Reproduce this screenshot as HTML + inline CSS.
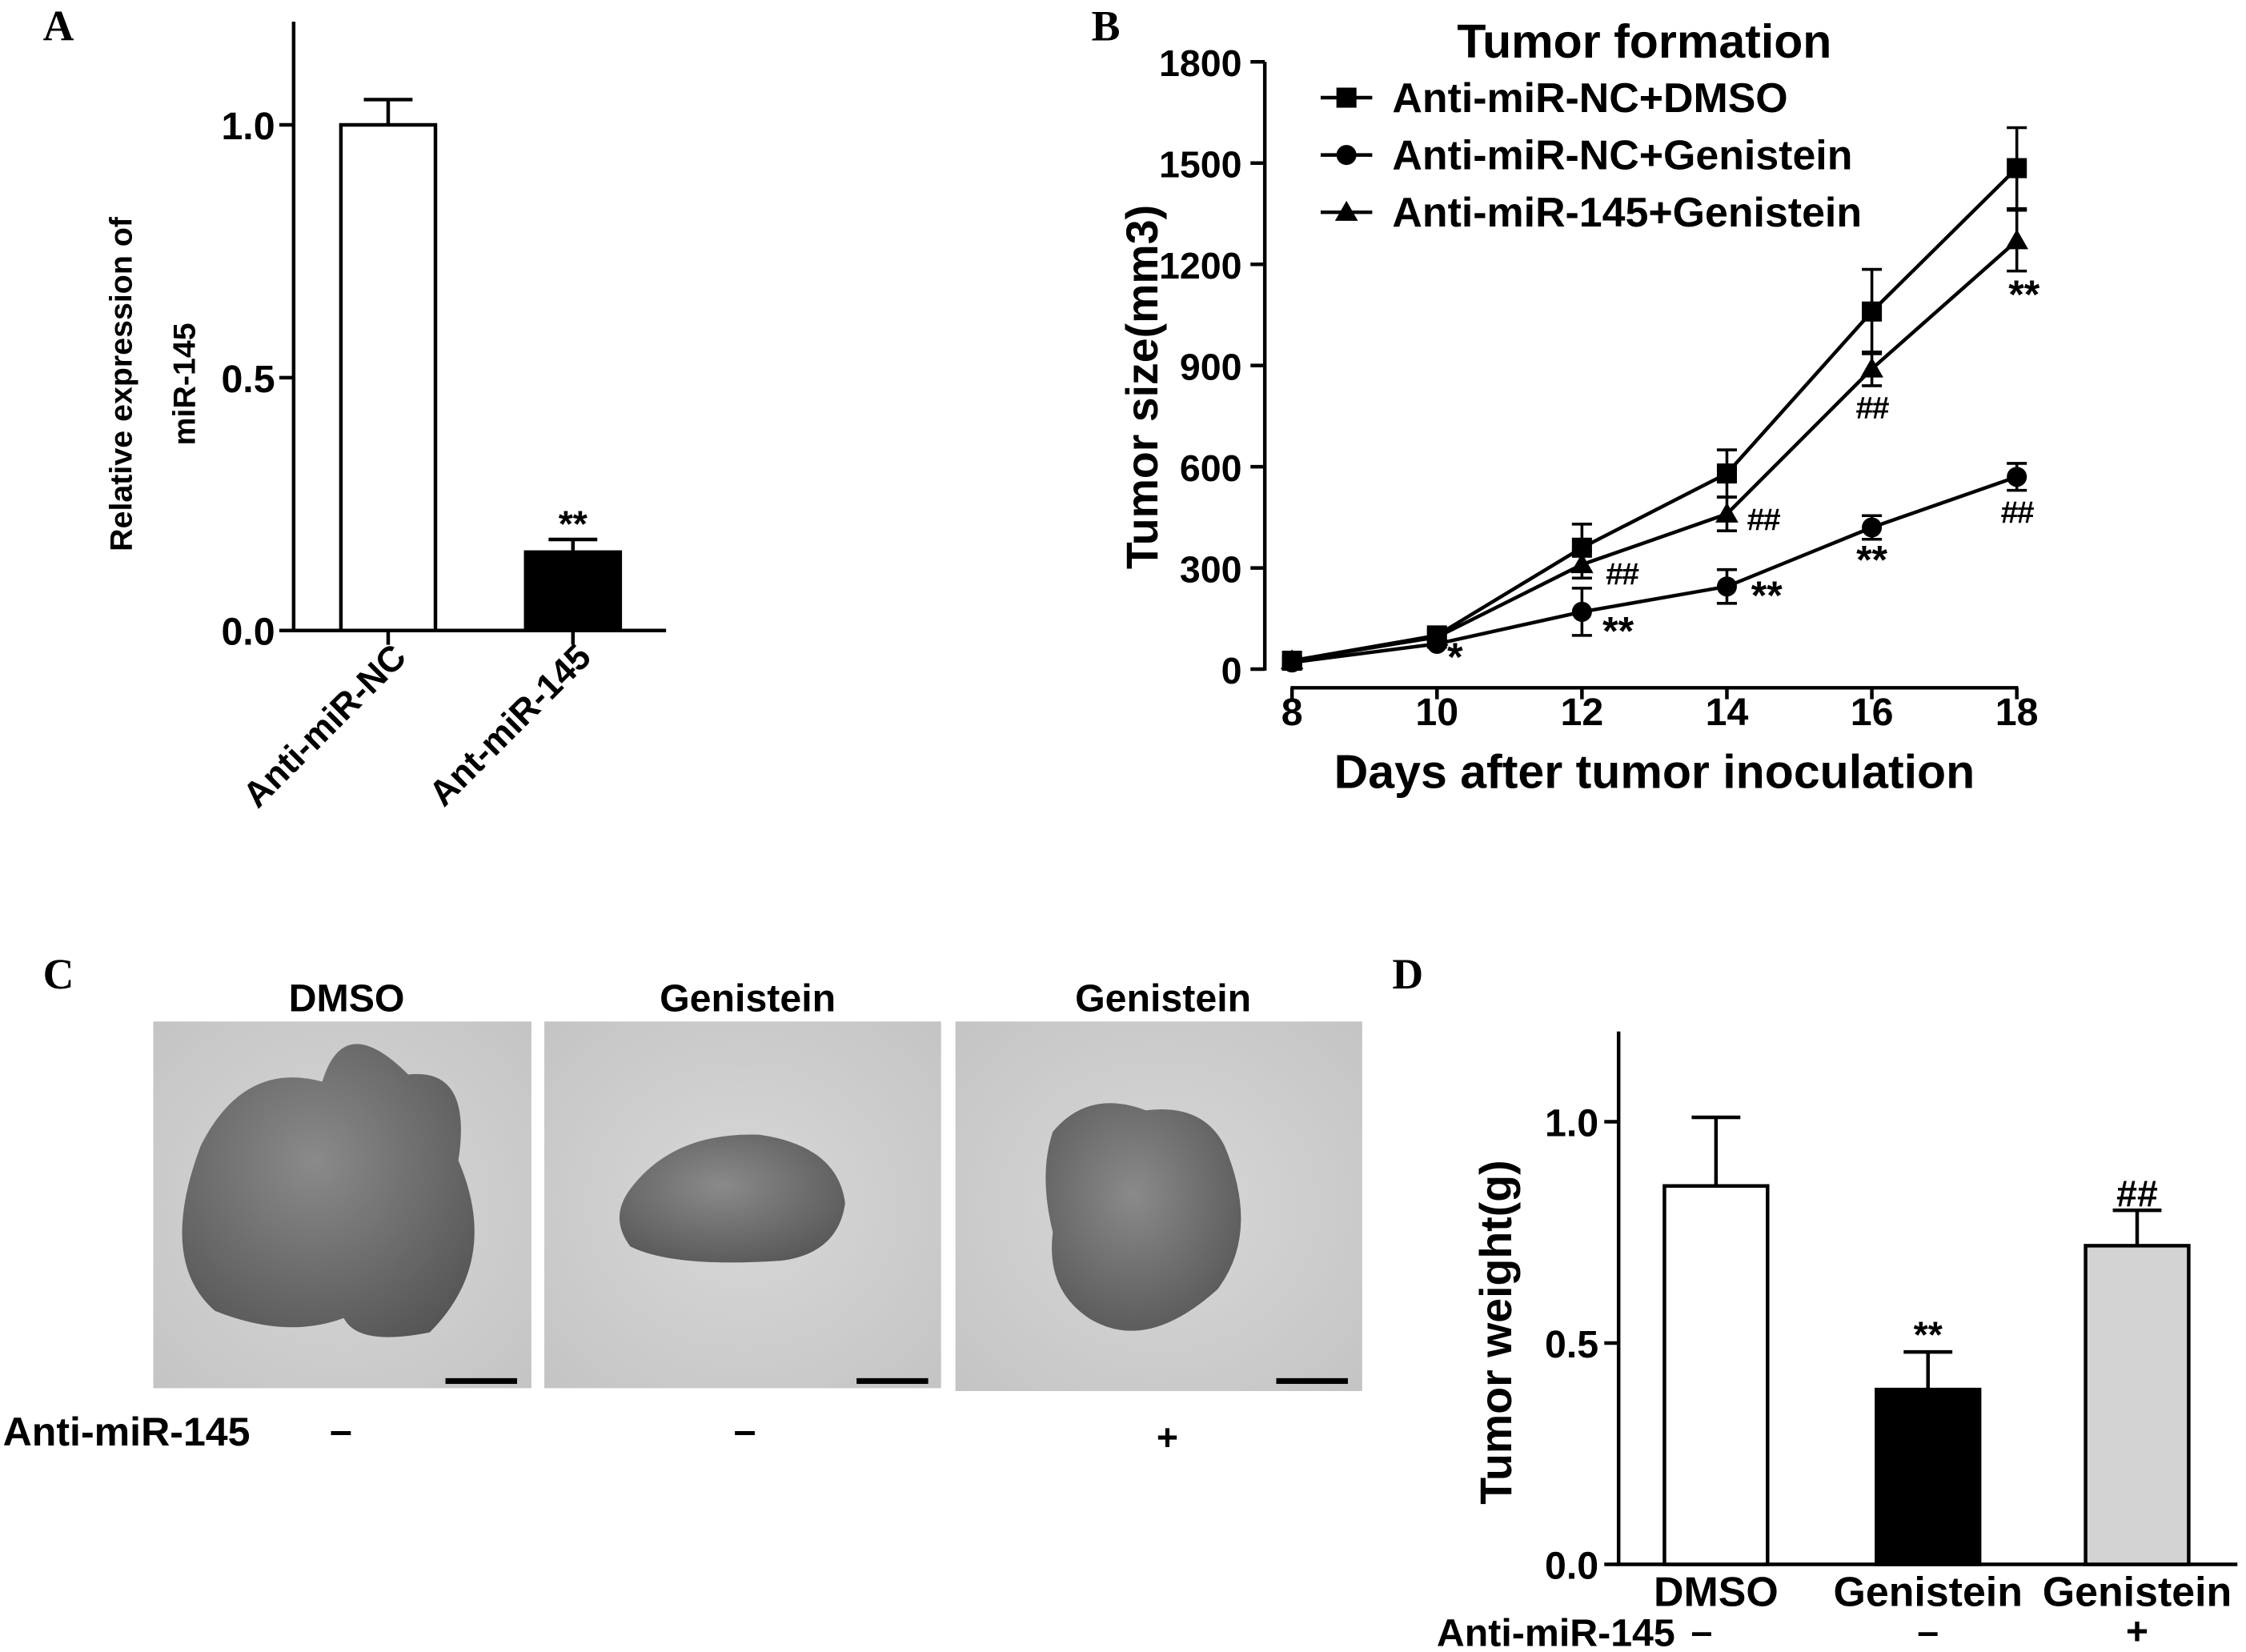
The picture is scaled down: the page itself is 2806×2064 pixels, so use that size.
<!DOCTYPE html>
<html><head><meta charset="utf-8"><style>
html,body{margin:0;padding:0;background:#fff}
svg{display:block}
text{font-family:"Liberation Sans",Arial,sans-serif;font-weight:bold;fill:#000}
.pl{font-family:"Liberation Serif",serif;font-size:30px}
</style></head><body>
<svg id="fig" width="2806" height="2064" viewBox="0 0 1568 1153" xmlns="http://www.w3.org/2000/svg">
<defs>
<radialGradient id="bg1" cx="0.5" cy="0.5" r="0.7"><stop offset="0" stop-color="#d8d8d8"/><stop offset="1" stop-color="#c4c4c4"/></radialGradient>
<radialGradient id="tm" cx="0.45" cy="0.4" r="0.7"><stop offset="0" stop-color="#8a8a8a"/><stop offset="1" stop-color="#555"/></radialGradient>
</defs>
<g id="A"></g>
<g id="B"></g>
<g id="C">
<text class="pl" x="30" y="690">C</text>
<text x="242" y="706" font-size="27" text-anchor="middle">DMSO</text>
<text x="522" y="706" font-size="27" text-anchor="middle">Genistein</text>
<text x="812" y="706" font-size="27" text-anchor="middle">Genistein</text>
<rect x="107" y="713" width="264" height="256" fill="url(#bg1)"/>
<path d="M140 800 Q170 740 225 755 Q240 705 285 750 Q330 745 320 810 Q350 880 300 930 Q250 940 240 920 Q200 935 150 915 Q110 880 140 800Z" fill="url(#tm)"/>
<rect x="311" y="962" width="50" height="4" fill="#000"/>
<rect x="380" y="713" width="277" height="256" fill="url(#bg1)"/>
<path d="M440 830 Q470 790 530 792 Q585 800 590 840 Q585 875 545 880 Q470 885 440 870 Q425 850 440 830Z" fill="url(#tm)"/>
<rect x="598" y="962" width="50" height="4" fill="#000"/>
<rect x="667" y="713" width="284" height="258" fill="url(#bg1)"/>
<path d="M735 790 Q760 760 800 775 Q840 770 855 800 Q880 860 850 900 Q800 945 760 920 Q730 900 735 860 Q725 820 735 790Z" fill="url(#tm)"/>
<rect x="891" y="962" width="50" height="4" fill="#000"/>
<text x="2" y="1009" font-size="28">Anti-miR-145</text>
<text x="238" y="1008" font-size="28" text-anchor="middle">–</text>
<text x="520" y="1008" font-size="28" text-anchor="middle">–</text>
<text x="815" y="1012" font-size="26" text-anchor="middle">+</text>
</g>
<g id="D"></g>
</svg>
<script>
const NS="http://www.w3.org/2000/svg";
function mk(p,t,a,txt){const e=document.createElementNS(NS,t);for(const k in a)e.setAttribute(k,a[k]);if(txt!==undefined)e.textContent=txt;p.appendChild(e);return e;}

// Panel A data
const aCats=["Anti-miR-NC","Ant-miR-145"];
const aVals=[1.0,0.155];
const aErr=[0.05,0.025];
const aFill=["#fff","#000"];
const aTicks=[0.0,0.5,1.0];
const aStars=["","**"];
// Panel B data
const bDays=[8,10,12,14,16,18];
const bSeriesNames=["Anti-miR-NC+DMSO","Anti-miR-NC+Genistein","Anti-miR-145+Genistein"];
const bDmso=[25,100,360,580,1060,1485];
const bDmsoErr=[10,15,70,70,125,120];
const bGen=[20,75,170,245,420,570];
const bGenErr=[10,10,70,50,35,40];
const bAnti=[25,95,310,460,890,1270];
const bAntiErr=[10,10,40,50,50,90];
const bYTicks=[0,300,600,900,1200,1500,1800];
const bAnnText=["*","**","**","**","**","##","##","##","##"];
const bAnnDay=[10.25,12.5,14.55,16,18.1,12.55,14.5,16,18];
const bAnnVal=[-5,72,178,284,1070,250,412,743,433];
// Panel D data
const dCats=["DMSO","Genistein","Genistein"];
const dSigns=["–","–","+"];
const dVals=[0.855,0.395,0.72];
const dErr=[0.155,0.085,0.08];
const dFill=["#fff","#000","#d3d3d3"];
const dTicks=[0.0,0.5,1.0];
const dStars=["","**","##"];

// ---- Panel A
(function(){
const g=document.getElementById('A');
const y=v=>440-v*353;
mk(g,'text',{class:'pl',x:30,y:28,},'A');
mk(g,'line',{x1:205,y1:15,x2:205,y2:441,stroke:'#000','stroke-width':2.5,});
mk(g,'line',{x1:204,y1:440,x2:465,y2:440,stroke:'#000','stroke-width':2.5,});
aTicks.forEach(t=>{mk(g,'line',{x1:195,y1:y(t),x2:205,y2:y(t),stroke:'#000','stroke-width':2.5});
 const e=mk(g,'text',{x:192,y:y(t)+10,'font-size':27,'text-anchor':'end'},t.toFixed(1));
 });
const tt=mk(g,'text',{transform:'translate(92,268) rotate(-90)','font-size':22,'text-anchor':'middle'});

mk(tt,'tspan',{x:0,dy:0},'Relative expression of');mk(tt,'tspan',{x:0,dy:44},'miR-145');
const cx=[271,400];
aCats.forEach((c,i)=>{
 const b=mk(g,'rect',{x:cx[i]-33,y:y(aVals[i]),width:66,height:440-y(aVals[i]),fill:aFill[i],stroke:'#000','stroke-width':2.5});
 
 mk(g,'line',{x1:cx[i],y1:y(aVals[i]),x2:cx[i],y2:y(aVals[i]+aErr[i]),stroke:'#000','stroke-width':2.5});
 mk(g,'line',{x1:cx[i]-17,y1:y(aVals[i]+aErr[i]),x2:cx[i]+17,y2:y(aVals[i]+aErr[i]),stroke:'#000','stroke-width':2.5});
 mk(g,'line',{x1:cx[i],y1:440,x2:cx[i],y2:450,stroke:'#000','stroke-width':2.5});
 if(aStars[i]){const s=mk(g,'text',{x:cx[i],y:y(aVals[i]+aErr[i])-2,'font-size':26,'font-weight':'normal','text-anchor':'middle','font-family':'Liberation Serif'},aStars[i]);}
 const l=mk(g,'text',{transform:`translate(${cx[i]+14},460) rotate(-45)`,'font-size':25,'text-anchor':'end'},c);
 
});
})();

// ---- Panel B
(function(){
const g=document.getElementById('B');
const y=v=>467-v*(424/1800);
const x=d=>902+(d-8)*50.6;
mk(g,'text',{class:'pl',x:762,y:28,},'B');
mk(g,'line',{x1:883,y1:43,x2:883,y2:468,stroke:'#000','stroke-width':2.5,});
mk(g,'line',{x1:901,y1:480,x2:1409,y2:480,stroke:'#000','stroke-width':2.5,});
bYTicks.forEach(t=>{mk(g,'line',{x1:873,y1:y(t),x2:883,y2:y(t),stroke:'#000','stroke-width':2.5});
 const e=mk(g,'text',{x:867,y:y(t)+10,'font-size':26,'text-anchor':'end'},t);
 });
bDays.forEach(d=>{mk(g,'line',{x1:x(d),y1:480,x2:x(d),y2:488,stroke:'#000','stroke-width':2.5});
 const e=mk(g,'text',{x:x(d),y:506,'font-size':27,'text-anchor':'middle'},d);
 });
const yt=mk(g,'text',{transform:'translate(808,270) rotate(-90)','font-size':31,'text-anchor':'middle'},'Tumor size(mm3)');

const xt=mk(g,'text',{x:1155,y:550,'font-size':33,'text-anchor':'middle'},'Days after tumor inoculation');

const ti=mk(g,'text',{x:1148,y:40,'font-size':33,'text-anchor':'middle'},'Tumor formation');

const series=[[bDmso,bDmsoErr,'sq'],[bGen,bGenErr,'ci'],[bAnti,bAntiErr,'tr']];
function marker(p,cx,cy,k){
 if(k==='sq')return mk(p,'rect',{x:cx-7,y:cy-7,width:14,height:14,fill:'#000'});
 if(k==='ci')return mk(p,'circle',{cx:cx,cy:cy,r:7,fill:'#000'});
 return mk(p,'polygon',{points:`${cx},${cy-8} ${cx-8},${cy+6} ${cx+8},${cy+6}`,fill:'#000'});
}
series.forEach((s,si)=>{
 const sg=mk(g,'g',{});
 mk(sg,'polyline',{points:bDays.map((d,i)=>x(d)+','+y(s[0][i])).join(' '),fill:'none',stroke:'#000','stroke-width':2.5});
 bDays.forEach((d,i)=>{
  mk(sg,'line',{x1:x(d),y1:y(s[0][i]-s[1][i]),x2:x(d),y2:y(s[0][i]+s[1][i]),stroke:'#000','stroke-width':2});
  [s[0][i]-s[1][i],s[0][i]+s[1][i]].forEach(v=>mk(sg,'line',{x1:x(d)-7,y1:y(v),x2:x(d)+7,y2:y(v),stroke:'#000','stroke-width':2}));
  const m=marker(sg,x(d),y(s[0][i]),s[2]);
 });
 const ly=68+si*40;
 mk(g,'line',{x1:922,y1:ly,x2:958,y2:ly,stroke:'#000','stroke-width':2.5});
 marker(g,940,ly,s[2]);
 const lt=mk(g,'text',{x:972,y:ly+10,'font-size':29},bSeriesNames[si]);
 
});
bAnnText.forEach((t,i)=>{
 const st=t[0]==='*';
 const e=mk(g,'text',{x:x(bAnnDay[i]),y:y(bAnnVal[i]),'font-size':st?28:22,'text-anchor':'middle','letter-spacing':st?0:-1},t);
 
});
})();

// ---- Panel D
(function(){
const g=document.getElementById('D');
const y=v=>1092-v*309;
mk(g,'text',{class:'pl',x:972,y:690,},'D');
mk(g,'line',{x1:1130,y1:720,x2:1130,y2:1093,stroke:'#000','stroke-width':2.5,});
mk(g,'line',{x1:1129,y1:1092,x2:1562,y2:1092,stroke:'#000','stroke-width':2.5,});
dTicks.forEach(t=>{mk(g,'line',{x1:1120,y1:y(t),x2:1130,y2:y(t),stroke:'#000','stroke-width':2.5});
 const e=mk(g,'text',{x:1116,y:y(t)+10,'font-size':27,'text-anchor':'end'},t.toFixed(1));
 });
const yt=mk(g,'text',{transform:'translate(1055,930) rotate(-90)','font-size':31,'text-anchor':'middle'},'Tumor weight(g)');

const cx=[1198,1346,1492];
dCats.forEach((c,i)=>{
 const b=mk(g,'rect',{x:cx[i]-36,y:y(dVals[i]),width:72,height:1092-y(dVals[i]),fill:dFill[i],stroke:'#000','stroke-width':2.5});
 
 const top=y(dVals[i]+dErr[i]);
 mk(g,'line',{x1:cx[i],y1:y(dVals[i]),x2:cx[i],y2:top,stroke:'#000','stroke-width':2.5});
 mk(g,'line',{x1:cx[i]-17,y1:top,x2:cx[i]+17,y2:top,stroke:'#000','stroke-width':2.5});
 if(dStars[i]){const s=mk(g,'text',{x:cx[i],y:top-3,'font-size':26,'font-weight':dStars[i]==='**'?'normal':'bold','text-anchor':'middle','font-family':'Liberation Serif'},dStars[i]);}
 const l=mk(g,'text',{x:cx[i],y:1121,'font-size':29,'text-anchor':'middle'},c);
 
 const sg=mk(g,'text',{x:cx[i]+(i===0?-10:0),y:1148,'font-size':27,'text-anchor':'middle'},dSigns[i]);
 
});
const r=mk(g,'text',{x:1003,y:1149,'font-size':27},'Anti-miR-145');

})();
</script>
</body></html>
